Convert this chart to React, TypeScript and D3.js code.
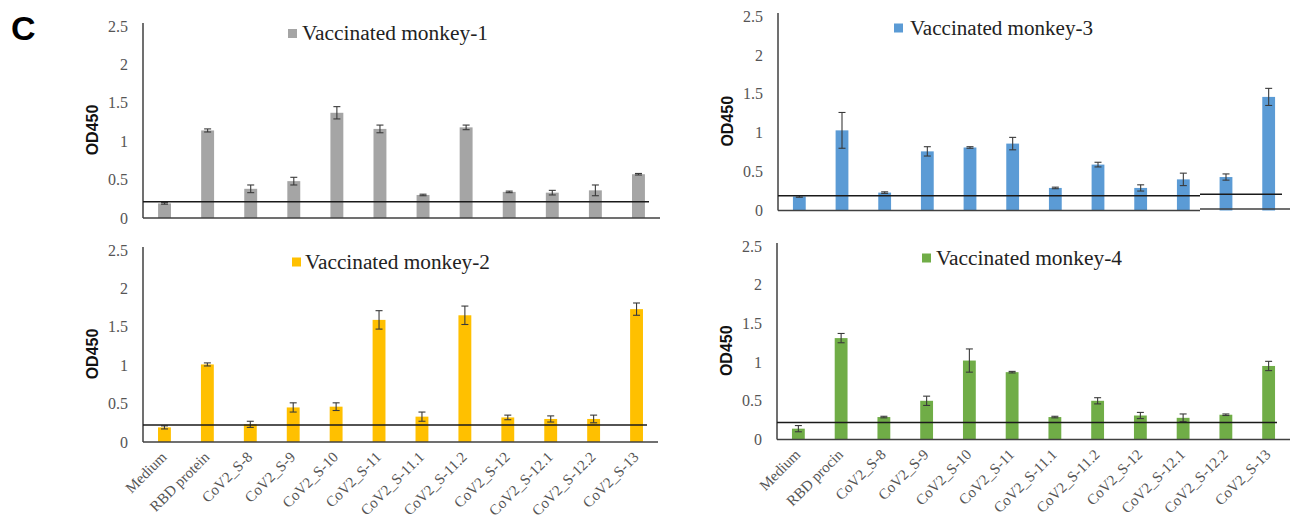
import React from 'react';
import * as d3 from 'd3';

const categoriesTop = ['Medium', 'RBD protein', 'CoV2_S-8', 'CoV2_S-9', 'CoV2_S-10', 'CoV2_S-11', 'CoV2_S-11.1', 'CoV2_S-11.2', 'CoV2_S-12', 'CoV2_S-12.1', 'CoV2_S-12.2', 'CoV2_S-13'];
const categoriesLeft = ['Medium', 'RBD protein', 'CoV2_S-8', 'CoV2_S-9', 'CoV2_S-10', 'CoV2_S-11', 'CoV2_S-11.1', 'CoV2_S-11.2', 'CoV2_S-12', 'CoV2_S-12.1', 'CoV2_S-12.2', 'CoV2_S-13'];
const categoriesRight = ['Medium', 'RBD procin', 'CoV2_S-8', 'CoV2_S-9', 'CoV2_S-10', 'CoV2_S-11', 'CoV2_S-11.1', 'CoV2_S-11.2', 'CoV2_S-12', 'CoV2_S-12.1', 'CoV2_S-12.2', 'CoV2_S-13'];

const monkey1 = [0.19, 1.14, 0.38, 0.48, 1.37, 1.16, 0.30, 1.18, 0.34, 0.33, 0.36, 0.57];
const monkey1Err = [0.01, 0.02, 0.05, 0.05, 0.08, 0.05, 0.01, 0.03, 0.01, 0.03, 0.07, 0.01];
const monkey2 = [0.19, 1.01, 0.23, 0.45, 0.46, 1.59, 0.33, 1.65, 0.32, 0.30, 0.30, 1.73];
const monkey2Err = [0.02, 0.02, 0.04, 0.06, 0.05, 0.12, 0.06, 0.12, 0.03, 0.04, 0.05, 0.08];
const monkey3 = [0.18, 1.03, 0.23, 0.76, 0.81, 0.86, 0.29, 0.59, 0.29, 0.40, 0.43, 1.46];
const monkey3Err = [0.01, 0.23, 0.01, 0.06, 0.01, 0.08, 0.01, 0.03, 0.04, 0.08, 0.04, 0.11];
const monkey4 = [0.14, 1.31, 0.29, 0.50, 1.02, 0.87, 0.29, 0.50, 0.31, 0.28, 0.32, 0.95];
const monkey4Err = [0.04, 0.06, 0.01, 0.06, 0.15, 0.01, 0.01, 0.04, 0.04, 0.05, 0.01, 0.06];

const seriesNames = ['Vaccinated monkey-1', 'Vaccinated monkey-2', 'Vaccinated monkey-3', 'Vaccinated monkey-4'];
const thresholds = [0.21, 0.22, 0.19, 0.22];
const yTicks = [0, 0.5, 1, 1.5, 2, 2.5];
const yTickLabels = ['0', '0.5', '1', '1.5', '2', '2.5'];
const yAxisTitle = 'OD450';
const panelLetter = 'C';

const SERIF = '"Liberation Serif", "Times New Roman", serif';
const SANS = '"Liberation Sans", Arial, sans-serif';

type Layout = {
  x0: number; x1: number; y0: number; yTop: number; thrEnd: number;
  markerX: number; legendY: number; textX: number; textW: number;
  color: string; showX: boolean; seamX?: number; seamDy?: number;
};

const panels = [
  { values: monkey1, errs: monkey1Err, cats: categoriesTop, name: seriesNames[0], thr: thresholds[0],
    layout: { x0: 143, x1: 660, y0: 218, yTop: 26, thrEnd: 649, markerX: 288, legendY: 33.5, textX: 302, textW: 186, color: '#A5A5A5', showX: false } as Layout },
  { values: monkey2, errs: monkey2Err, cats: categoriesLeft, name: seriesNames[1], thr: thresholds[1],
    layout: { x0: 143, x1: 658, y0: 442, yTop: 250, thrEnd: 647, markerX: 292, legendY: 262, textX: 305, textW: 185, color: '#FFC000', showX: true } as Layout },
  { values: monkey3, errs: monkey3Err, cats: categoriesTop, name: seriesNames[2], thr: thresholds[2],
    layout: { x0: 778, x1: 1290, y0: 210.5, yTop: 16, thrEnd: 1282, markerX: 894, legendY: 28, textX: 910, textW: 183, color: '#5B9BD5', showX: false, seamX: 1200, seamDy: -1.5 } as Layout },
  { values: monkey4, errs: monkey4Err, cats: categoriesRight, name: seriesNames[3], thr: thresholds[3],
    layout: { x0: 777, x1: 1290, y0: 439.5, yTop: 246, thrEnd: 1277, markerX: 922, legendY: 258, textX: 936, textW: 186, color: '#70AD47', showX: true } as Layout },
];

function Panel({ p }: { p: typeof panels[number] }) {
  const L = p.layout;
  const x = d3.scaleBand<string>().domain(p.cats).range([L.x0, L.x1]).paddingInner(0.7).paddingOuter(0.35);
  const y = d3.scaleLinear().domain([0, 2.5]).range([L.y0, L.yTop]);
  const bw = x.bandwidth();
  const cap = 3.5;
  const seamX = L.seamX ?? L.x1 + 100;
  const seamDy = L.seamDy ?? 0;
  return (
    <g>
      {p.values.map((v, i) => {
        const c = p.cats[i];
        const bx = x(c)!;
        return <rect key={'b' + i} x={bx} y={y(v)} width={bw} height={y(0) - y(v)} fill={L.color} />;
      })}
      {p.values.map((v, i) => {
        const c = p.cats[i];
        const cx = x(c)! + bw / 2;
        const e = p.errs[i];
        return (
          <g key={'e' + i} stroke="#3a3a3a" strokeWidth={1.1}>
            <line x1={cx} x2={cx} y1={y(v + e)} y2={y(v - e)} />
            <line x1={cx - cap} x2={cx + cap} y1={y(v + e)} y2={y(v + e)} />
            <line x1={cx - cap} x2={cx + cap} y1={y(v - e)} y2={y(v - e)} />
          </g>
        );
      })}
      <line x1={L.x0} x2={L.x0} y1={y(2.5) - 3} y2={y(0)} stroke="#404040" strokeWidth={1.5} />
      <line x1={L.x0} x2={Math.min(seamX, L.x1)} y1={y(0)} y2={y(0)} stroke="#404040" strokeWidth={1.6} />
      {seamX < L.x1 && <line x1={seamX} x2={L.x1} y1={y(0) + seamDy} y2={y(0) + seamDy} stroke="#404040" strokeWidth={1.6} />}
      <line x1={L.x0} x2={Math.min(seamX, L.thrEnd)} y1={y(p.thr)} y2={y(p.thr)} stroke="#1a1a1a" strokeWidth={1.5} />
      {seamX < L.thrEnd && <line x1={seamX} x2={L.thrEnd} y1={y(p.thr) + seamDy} y2={y(p.thr) + seamDy} stroke="#1a1a1a" strokeWidth={1.5} />}
      {yTicks.map((t, i) => (
        <text key={'t' + i} x={L.x0 - 15} y={y(t)} dy="0.35em" textAnchor="end" fontFamily={SERIF} fontSize={16} fill="#555">
          {yTickLabels[i]}
        </text>
      ))}
      <text transform={`translate(${L.x0 - 45},${(y(0) + y(2.5)) / 2 + 8}) rotate(-90)`} textAnchor="middle" fontFamily={SANS} fontWeight="bold" fontSize={16} fill="#111">
        {yAxisTitle}
      </text>
      <rect x={L.markerX} y={L.legendY - 4.5} width={9} height={9} fill={L.color} />
      <text x={L.textX} y={L.legendY} dy="0.33em" fontFamily={SERIF} fontSize={20} fill="#222" textLength={L.textW} lengthAdjust="spacingAndGlyphs">
        {p.name}
      </text>
      {L.showX && p.cats.map((c, i) => {
        const cx = x(c)! + bw / 2;
        return (
          <text key={'x' + i} transform={`translate(${cx + 3},${y(0) + 16}) rotate(-45)`} textAnchor="end" fontFamily={SERIF} fontSize={15} fill="#555">
            {c}
          </text>
        );
      })}
    </g>
  );
}

export default function App() {
  return (
    <div style={{ position: 'absolute', left: 0, top: 0 }}>
      <svg width={1301} height={523} style={{ display: 'block', background: '#fff' }}>
        <rect x={0} y={0} width={1301} height={523} fill="#fff" />
        <text x={11} y={40} fontFamily={SANS} fontWeight="bold" fontSize={34} fill="#000">{panelLetter}</text>
        {panels.map((p, i) => <Panel key={i} p={p} />)}
      </svg>
    </div>
  );
}
